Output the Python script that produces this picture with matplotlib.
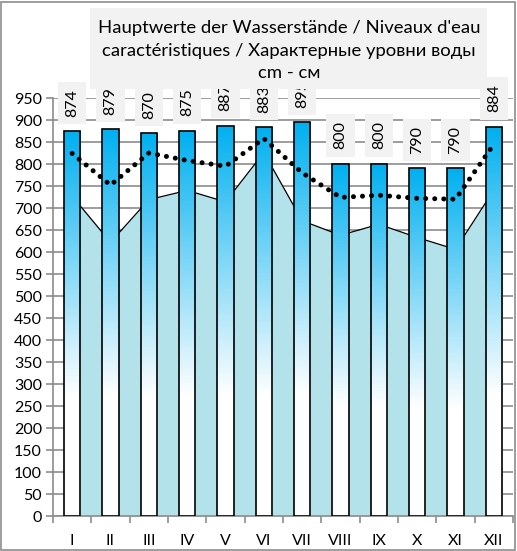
import matplotlib
matplotlib.use("Agg")
from matplotlib import pyplot as plt
from matplotlib.colors import LinearSegmentedColormap
from matplotlib.patches import Rectangle
import numpy as np

plt.rcParams['font.family'] = ['Lato', 'DejaVu Sans']

## Daten
months = ['I', 'II', 'III', 'IV', 'V', 'VI', 'VII', 'VIII', 'IX', 'X', 'XI', 'XII']
hw = [874, 879, 870, 875, 887, 883, 895, 800, 800, 790, 790, 884]      # Säulen
mw = [824, 752, 825, 808, 795, 858, 780, 724, 729, 722, 720, 845]      # punktierte Linie
nw = [727, 622, 719, 740, 714, 826, 671, 638, 663, 633, 606, 741]      # Fläche
title = "Hauptwerte der Wasserstände / Niveaux d'eau\ncaractéristiques / Характерные уровни воды\ncm - см"

fig = plt.figure(figsize=(5.17, 5.51), dpi=100)
ax = fig.add_axes([53/517, 1 - 516/551, 460/517, 418/551])
x = np.arange(len(months))

# Fläche
ax.fill_between(x, nw, 0, color='#b3e2ea', lw=0, zorder=2)
ax.plot(x, nw, color='black', lw=0.9, zorder=2.5)

# Säulen mit Verlauf
bars = ax.bar(x, hw, width=0.42, facecolor='none', edgecolor='black', lw=1.2, zorder=4)
cmap = LinearSegmentedColormap.from_list('w', [(0, 'white'), (0.31, 'white'), (1, '#00b0f0')])
grad = np.linspace(0, 1, 256).reshape(-1, 1)
for b in bars:
    bx, bw, bh = b.get_x(), b.get_width(), b.get_height()
    im = ax.imshow(grad, extent=[bx, bx + bw, 0, bh], origin='lower', aspect='auto',
                   cmap=cmap, zorder=3)
    im.set_clip_path(b)

# punktierte Linie
ax.plot(x, mw, color='black', lw=3.6, linestyle=(0, (0.01, 1.8)),
        dash_capstyle='round', zorder=5)

# Beschriftungen
for xi, v in zip(x, hw):
    ax.annotate(str(v), (xi, v), xytext=(0, 10.5), textcoords='offset points',
                rotation=90, ha='center', va='bottom', fontsize=11.5,
                annotation_clip=False, zorder=6,
                bbox=dict(boxstyle='square,pad=0.45', fc='#f2f2f2', ec='none'))

ax.set_xlim(-0.5, 11.5)
ax.set_ylim(0, 950)
ax.set_yticks(np.arange(0, 951, 50))
ax.set_xticks(x)
ax.set_xticklabels(months)
ax.set_xticks(np.arange(-0.5, 12, 1), minor=True)
ax.tick_params(axis='x', which='major', length=0, pad=13, labelsize=11.5)
ax.tick_params(axis='x', which='minor', length=5, color='#8c8c8c', width=1.2)
ax.tick_params(axis='y', length=5, color='#8c8c8c', width=1.2, labelsize=11.5, pad=3)
ax.grid(axis='y', color='#8c8c8c', lw=1.2, zorder=1)
ax.set_axisbelow(True)
for s in ['top', 'right']:
    ax.spines[s].set_visible(False)
for s in ['left', 'bottom']:
    ax.spines[s].set_color('#8c8c8c')
    ax.spines[s].set_linewidth(1.2)

# Titel
fig.patches.append(Rectangle((90/517, 1 - 89/551), 397/517, 81/551, transform=fig.transFigure,
                             fc='#f2f2f2', ec='none', zorder=7))
fig.text(289/517, 1 - 51/551, title, ha='center', va='center', fontsize=13.3,
         linespacing=1.5, zorder=8)

# Rahmen
fig.patches.append(Rectangle((1/517, 1/551), 514/517, 548/551, transform=fig.transFigure,
                             fill=False, ec='#8c8c8c', lw=1.2, zorder=9))

fig.savefig('out.png', dpi=100)
